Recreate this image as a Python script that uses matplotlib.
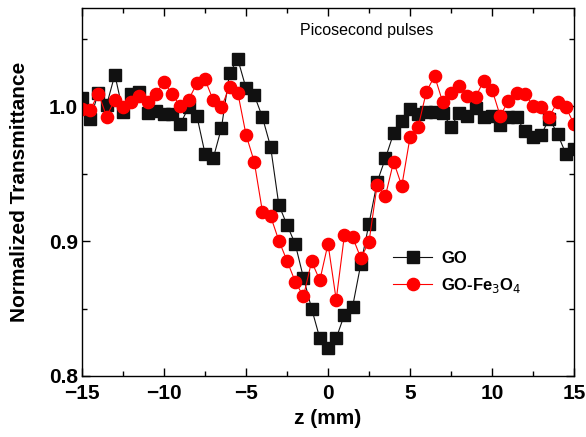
import matplotlib
matplotlib.use("Agg")
from matplotlib import pyplot as plt
from matplotlib.ticker import MultipleLocator, FormatStrFormatter

plt.rcParams['font.family'] = ['Liberation Sans', 'DejaVu Sans']

# z position (mm)
z = [-15.0, -14.5, -14.0, -13.5, -13.0, -12.5, -12.0, -11.5, -11.0, -10.5,
     -10.0, -9.5, -9.0, -8.5, -8.0, -7.5, -7.0, -6.5, -6.0, -5.5,
     -5.0, -4.5, -4.0, -3.5, -3.0, -2.5, -2.0, -1.5, -1.0, -0.5,
     0.0, 0.5, 1.0, 1.5, 2.0, 2.5, 3.0, 3.5, 4.0, 4.5,
     5.0, 5.5, 6.0, 6.5, 7.0, 7.5, 8.0, 8.5, 9.0, 9.5,
     10.0, 10.5, 11.0, 11.5, 12.0, 12.5, 13.0, 13.5, 14.0, 14.5, 15.0]

# GO
go = [1.006, 0.991, 1.010, 1.001, 1.0235, 0.996, 1.009, 1.011, 0.995, 0.9965,
      0.994, 0.994, 0.987, 0.9995, 0.993, 0.965, 0.9615, 0.984, 1.025, 1.035,
      1.0135, 1.0085, 0.992, 0.970, 0.927, 0.912, 0.898, 0.873, 0.850, 0.828,
      0.821, 0.828, 0.8455, 0.8515, 0.883, 0.913, 0.944, 0.9615, 0.980, 0.989,
      0.998, 0.9945, 0.996, 0.996, 0.995, 0.985, 0.995, 0.993, 0.999, 0.9925,
      0.993, 0.9865, 0.9925, 0.992, 0.9815, 0.977, 0.979, 0.991, 0.9795, 0.965, 0.9685]

# GO-Fe3O4
gofe = [0.998, 0.9975, 1.0095, 0.9925, 1.005, 0.9995, 1.0035, 1.008, 1.003, 1.0095,
        1.018, 1.009, 1.000, 1.005, 1.017, 1.020, 1.0045, 0.9995, 1.0145, 1.010,
        0.979, 0.959, 0.922, 0.9185, 0.9005, 0.8855, 0.870, 0.859, 0.885, 0.871,
        0.898, 0.8565, 0.9045, 0.903, 0.8875, 0.8995, 0.942, 0.9335, 0.959, 0.941,
        0.977, 0.985, 1.011, 1.0225, 1.003, 1.010, 1.0155, 1.008, 1.007, 1.019,
        1.0125, 0.993, 1.004, 1.010, 1.0095, 1.0005, 0.9995, 0.9925, 1.0035, 0.9995, 0.987]

fig = plt.figure(figsize=(5.86, 4.37), dpi=100)
ax = fig.add_axes([0.140, 0.1396, 0.8395, 0.8421])

ax.plot(z, go, '-', color='#111111', lw=0.8, marker='s', ms=8,
        mec='#111111', mfc='#111111', label='GO')
ax.plot(z, gofe, '-', color='#ff0000', lw=0.8, marker='o', ms=8.8,
        mec='#ff0000', mfc='#ff0000', label='GO-Fe$_3$O$_4$')

ax.set_xlim(-15, 15)
ax.set_ylim(0.8, 1.073)
ax.xaxis.set_major_locator(MultipleLocator(5))
ax.xaxis.set_minor_locator(MultipleLocator(2.5))
ax.yaxis.set_major_locator(MultipleLocator(0.1))
ax.yaxis.set_minor_locator(MultipleLocator(0.05))
ax.yaxis.set_major_formatter(FormatStrFormatter('%.1f'))
ax.tick_params(which='both', direction='in', top=True, right=True, width=1)
ax.tick_params(which='major', length=6, labelsize=15)
ax.tick_params(axis='x', which='major', pad=6)
ax.tick_params(axis='y', which='major', pad=3)
ax.tick_params(which='minor', length=3.5)
for lab in ax.get_xticklabels() + ax.get_yticklabels():
    lab.set_fontweight('bold')
for sp in ax.spines.values():
    sp.set_linewidth(1.0)

ax.set_xlabel('z (mm)', fontsize=15, fontweight='bold', labelpad=4)
ax.set_ylabel('Normalized Transmittance', fontsize=15, fontweight='bold', labelpad=14)
ax.text(0.579, 0.94, 'Picosecond pulses', transform=ax.transAxes,
        ha='center', va='center', fontsize=11.5)

leg = ax.legend(loc='upper left', bbox_to_anchor=(0.632, 0.34), frameon=False,
                borderpad=0, borderaxespad=0, handlelength=2.35, handletextpad=0.55,
                labelspacing=0.6, prop={'weight': 'bold', 'size': 12})

fig.savefig('out.png', dpi=100)
